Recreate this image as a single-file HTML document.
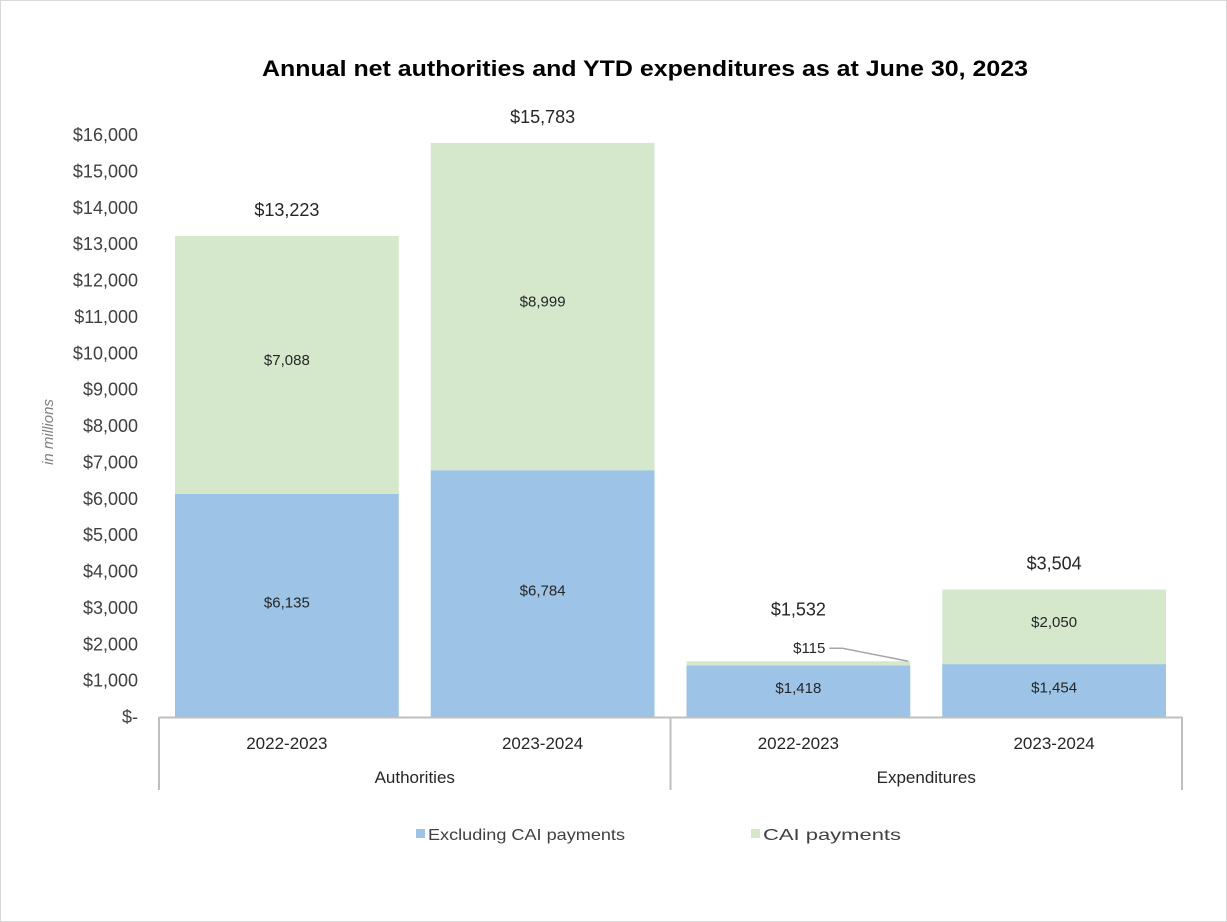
<!DOCTYPE html>
<html><head><meta charset="utf-8"><style>
html,body{margin:0;padding:0;background:#fff}
svg{display:block;font-family:"Liberation Sans",sans-serif}
</style></head><body>
<svg id="chart" width="1227" height="922" viewBox="0 0 1227 922">
<rect x="0.5" y="0.5" width="1226" height="921" fill="#fff" stroke="#d9d9d9"/>
<text x="645" y="76" text-anchor="middle" font-size="22" font-weight="bold" fill="#000" textLength="766" lengthAdjust="spacingAndGlyphs">Annual net authorities and YTD expenditures as at June 30, 2023</text>
<text transform="translate(53,432) rotate(-90)" text-anchor="middle" font-size="15" font-style="italic" fill="#7f7f7f">in millions</text>
<g id="yticks"></g>
<g id="bars"></g>
<g id="xaxis"></g>
<g>
<rect x="416" y="829" width="9" height="9" fill="#9dc3e6"/>
<text x="428" y="840" font-size="16" fill="#404040" textLength="197" lengthAdjust="spacingAndGlyphs">Excluding CAI payments</text>
<rect x="751" y="829" width="9" height="9" fill="#d5e8cb"/>
<text x="763" y="840" font-size="16" fill="#404040" textLength="138" lengthAdjust="spacingAndGlyphs">CAI payments</text>
</g>
</svg>
<script>
const categories = ["2022-2023","2023-2024","2022-2023","2023-2024"];
const groups = ["Authorities","Expenditures"];
const excluding = [6135, 6784, 1418, 1454];
const cai = [7088, 8999, 115, 2050];
const totals = [13223, 15783, 1532, 3504];
const yTicks = [0,1000,2000,3000,4000,5000,6000,7000,8000,9000,10000,11000,12000,13000,14000,15000,16000];

const NS="http://www.w3.org/2000/svg";
const x0=159, x1=1182, y0=717, yTop=135, yMax=16000;
const y=v=>y0-(v/yMax)*(y0-yTop);
const band=(x1-x0)/categories.length;
const bx=i=>x0+band*i+band*0.0625;
const bw=band*0.875;
const fmt=v=>"$"+v.toLocaleString("en-US");
function mk(tag,attrs,parent,txt){const e=document.createElementNS(NS,tag);for(const k in attrs)e.setAttribute(k,attrs[k]);if(txt!==undefined)e.textContent=txt;parent.appendChild(e);return e;}

const yt=document.getElementById("yticks");
yTicks.forEach(v=>{
  const t=mk("text",{x:138,y:y(v)+6,"text-anchor":"end","font-size":"18",fill:"#404040"},yt,v===0?"$-":fmt(v));
  
  
});

const bg=document.getElementById("bars");
categories.forEach((c,i)=>{
  const r1=mk("rect",{x:bx(i),y:y(excluding[i]),width:bw,height:y0-y(excluding[i]),fill:"#9dc3e6"},bg);
  
  
  const r2=mk("rect",{x:bx(i),y:y(excluding[i]+cai[i]),width:bw,height:y(excluding[i])-y(excluding[i]+cai[i]),fill:"#d5e8cb"},bg);
  
  
  const cx=bx(i)+bw/2;
  const l1=mk("text",{x:cx,y:(y(excluding[i])+y0)/2+2,"text-anchor":"middle","font-size":"15",fill:"#262626"},bg,fmt(excluding[i]));
  
  
  const top=y(excluding[i]+cai[i]);
  let totalOffset=20;
  if(y(excluding[i])-top>30){
    const l2=mk("text",{x:cx,y:(top+y(excluding[i]))/2,"text-anchor":"middle","font-size":"15",fill:"#262626"},bg,fmt(cai[i]));
    
    
  } else {
    totalOffset=46;
    const l2=mk("text",{x:cx+27,y:top-8,"text-anchor":"end","font-size":"15",fill:"#262626"},bg,fmt(cai[i]));
    
    
    const ln=mk("polyline",{points:`${cx+31},${top-13} ${cx+44},${top-13} ${bx(i)+bw-2},${top}`,fill:"none",stroke:"#a6a6a6","stroke-width":"1.5"},bg);
    
    
  }
  const lt=mk("text",{x:cx,y:y(totals[i])-totalOffset,"text-anchor":"middle","font-size":"18",fill:"#262626"},bg,fmt(totals[i]));
  
  
});

const xa=document.getElementById("xaxis");
const ax=mk("line",{x1:x0,x2:x1,y1:y0+0.5,y2:y0+0.5,stroke:"#bfbfbf","stroke-width":"2"},xa);


[0,2,4].forEach(k=>{
  const xx=x0+band*k;
  const l=mk("line",{x1:xx,x2:xx,y1:y0,y2:790,stroke:"#bfbfbf","stroke-width":"2"},xa);
  
  
});
categories.forEach((c,i)=>{
  const t=mk("text",{x:x0+band*(i+0.5),y:749,"text-anchor":"middle","font-size":"17",fill:"#262626"},xa,c);
  
  
});
groups.forEach((g,j)=>{
  const t=mk("text",{x:x0+band*(2*j+1),y:783,"text-anchor":"middle","font-size":"17",fill:"#262626"},xa,g);
  
  
});
</script>
</body></html>
